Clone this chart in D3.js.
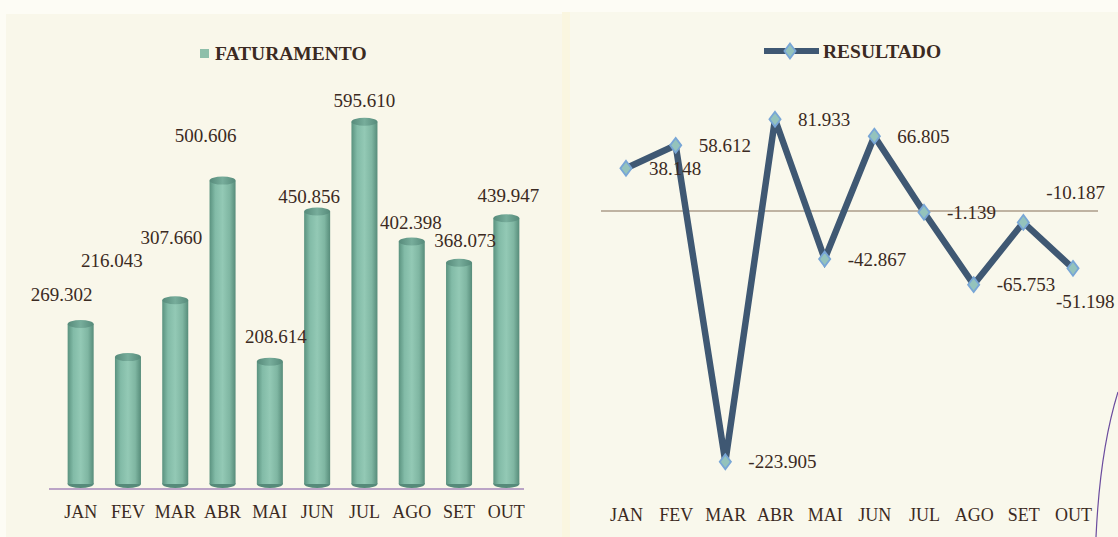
<!DOCTYPE html>
<html><head><meta charset="utf-8">
<script src="https://cdn.jsdelivr.net/npm/d3@7"></script>
<style>
html,body{margin:0;padding:0;background:#fdfcf6;}
svg{display:block;}
text{font-family:"Liberation Serif","Times New Roman",serif;fill:#3b2a22;}
</style></head>
<body>
<svg id="c" width="1118" height="537"></svg>
<script>
// ---- data ----
const months = ["JAN","FEV","MAR","ABR","MAI","JUN","JUL","AGO","SET","OUT"];
const faturamento = [269302, 216043, 307660, 500606, 208614, 450856, 595610, 402398, 368073, 439947];
const resultado = [38148, 58612, -223905, 81933, -42867, 66805, -1139, -65753, -10187, -51198];
const titleLeft = "FATURAMENTO";
const titleRight = "RESULTADO";
// label nudges (layout only)
const fatNudge = [[-19,-8],[-16,-75],[-4,-41],[-17,-23],[6,-3],[-8,7],[0,1],[-1,3],[6,0],[2,-1]];
const resNudge = [[0,0],[0,0],[0,0],[0,0],[0,0],[0,0],[0,0],[0,0],[0,-30],[-40,33]];

const loc = d3.formatLocale({decimal:",", thousands:".", grouping:[3], currency:["R$",""], minus:"-"});
const fmt = loc.format(",d");

const svg = d3.select("#c");
const defs = svg.append("defs");
const g1 = defs.append("linearGradient").attr("id","cyl").attr("x1","0").attr("x2","1").attr("y1","0").attr("y2","0");
[[0,"#5a927f"],[0.22,"#82bba7"],[0.5,"#93c9b5"],[0.78,"#7fb6a2"],[1,"#578c7a"]].forEach(s=>g1.append("stop").attr("offset",s[0]).attr("stop-color",s[1]));
const g2 = defs.append("linearGradient").attr("id","cap").attr("x1","0").attr("x2","1");
[[0,"#568a7a"],[0.5,"#77ad9b"],[1,"#568a7a"]].forEach(s=>g2.append("stop").attr("offset",s[0]).attr("stop-color",s[1]));

// backgrounds
svg.append("rect").attr("x",0).attr("y",0).attr("width",1118).attr("height",537).attr("fill","#fdfcf5");
svg.append("rect").attr("x",6).attr("y",14).attr("width",556).attr("height",523).attr("fill","#f9f7ea");
svg.append("rect").attr("x",562).attr("y",12).attr("width",8).attr("height",525).attr("fill","#faf6e0");
svg.append("rect").attr("x",570).attr("y",12).attr("width",548).attr("height",525).attr("fill","#f9f8ec");

// ---------- LEFT: FATURAMENTO ----------
const xL = d3.scaleBand().domain(months).range([57,530]).paddingInner(0.45).paddingOuter(0.225);
const yL = d3.scaleLinear().domain([0,600000]).range([487,115]);
const bw = xL.bandwidth(), ry = 4;

// axis line
svg.append("line").attr("x1",xL.range()[0]-8).attr("x2",xL.range()[1]-6)
  .attr("y1",yL(0)+2).attr("y2",yL(0)+2).attr("stroke","#bba4c6").attr("stroke-width",2);

const bars = svg.append("g").selectAll("g").data(months).join("g");
bars.append("ellipse").attr("cx",d=>xL(d)+bw/2).attr("cy",yL(0)-ry+1).attr("rx",bw/2).attr("ry",ry).attr("fill","#568a7a");
bars.append("rect").attr("x",d=>xL(d)).attr("width",bw)
  .attr("y",(d,i)=>yL(faturamento[i])+ry).attr("height",(d,i)=>yL(0)-yL(faturamento[i])-2*ry+1)
  .attr("fill","url(#cyl)");
bars.append("ellipse").attr("cx",d=>xL(d)+bw/2).attr("cy",(d,i)=>yL(faturamento[i])+ry).attr("rx",bw/2).attr("ry",ry).attr("fill","url(#cap)");

svg.append("g").selectAll("text").data(months).join("text")
  .attr("x",(d,i)=>xL(d)+bw/2+fatNudge[i][0])
  .attr("y",(d,i)=>yL(faturamento[i])-18+fatNudge[i][1])
  .attr("dy","0.35em").attr("text-anchor","middle").attr("font-size",19)
  .text((d,i)=>fmt(faturamento[i]));

const axL = svg.append("g").call(d3.axisBottom(xL).tickSize(0));
axL.select(".domain").remove();
axL.selectAll("text").attr("y",518).attr("dy",0).attr("font-size",18).style("font-family",'"Liberation Serif",serif').attr("fill","#3b2a22");

// legend left
svg.append("rect").attr("x",200).attr("y",49).attr("width",9).attr("height",9).attr("fill","#8ebfaa");
svg.append("text").attr("x",215).attr("y",60).attr("font-size",19.5).attr("font-weight","bold").text(titleLeft);

// ---------- RIGHT: RESULTADO ----------
const xR = d3.scalePoint().domain(months).range([626,1073]);
const yR = d3.scaleLinear().domain([-250000,100000]).range([491,99]);

svg.append("line").attr("x1",601).attr("x2",1098).attr("y1",yR(0)).attr("y2",yR(0))
  .attr("stroke","#ab9d8a").attr("stroke-width",1.5);

const line = d3.line().x((d,i)=>xR(months[i])).y(d=>yR(d)).curve(d3.curveLinear);
svg.append("path").datum(resultado).attr("d",line).attr("fill","none")
  .attr("stroke","#3f5873").attr("stroke-width",6.5).attr("stroke-linejoin","miter").attr("stroke-miterlimit",3);

const diamond = d3.symbol().type(d3.symbolDiamond).size(64);
svg.append("g").selectAll("path").data(resultado).join("path")
  .attr("transform",(d,i)=>`translate(${xR(months[i])},${yR(d)}) scale(1.3,1)`)
  .attr("d",diamond).attr("fill","#94c3bc").attr("stroke","#78a6d6").attr("stroke-width",1.5);

svg.append("g").selectAll("text").data(resultado).join("text")
  .attr("x",(d,i)=>xR(months[i])+23+resNudge[i][0])
  .attr("y",(d,i)=>yR(d)+resNudge[i][1])
  .attr("dy","0.35em").attr("font-size",19)
  .text(d=>fmt(d));

const axR = svg.append("g").call(d3.axisBottom(xR).tickSize(0));
axR.select(".domain").remove();
axR.selectAll("text").attr("y",521).attr("dy",0).attr("font-size",18).style("font-family",'"Liberation Serif",serif').attr("fill","#3b2a22");

// legend right
svg.append("line").attr("x1",764).attr("x2",819).attr("y1",51).attr("y2",51).attr("stroke","#3f5873").attr("stroke-width",6);
svg.append("path").attr("transform","translate(790,51) scale(1.3,1)").attr("d",diamond).attr("fill","#94c3bc").attr("stroke","#78a6d6").attr("stroke-width",1.5);
svg.append("text").attr("x",823).attr("y",58).attr("font-size",19.5).attr("font-weight","bold").text(titleRight);

// scan artifact curve on right edge
svg.append("path").attr("d","M1118,392 Q1100,450 1096,537").attr("fill","none").attr("stroke","#6b4c9e").attr("stroke-width",1.2);
</script>
</body></html>
